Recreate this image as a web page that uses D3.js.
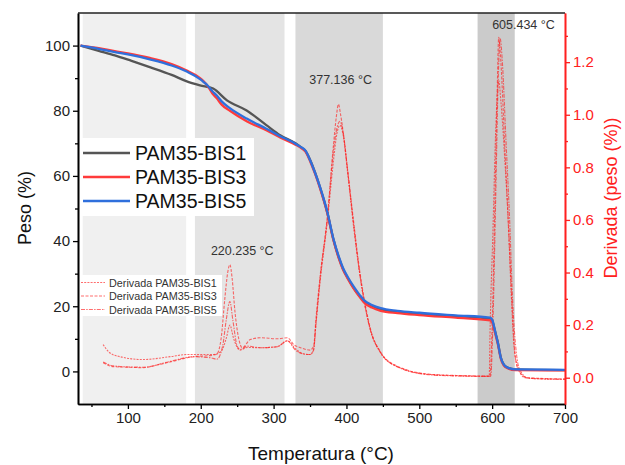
<!DOCTYPE html>
<html>
<head>
<meta charset="utf-8">
<script src="https://cdn.jsdelivr.net/npm/d3@7"></script>
<style>
  body { margin: 0; background: #fff; }
  svg { font-family: "Liberation Sans", Arial, sans-serif; }
</style>
</head>
<body>
<script>
// temperature (°C) / weight (%) pairs for each sample
const tgaBIS1 = [[35,100],[60,98.4],[82,97.0],[105,95.3],[130,93.4],[160,91.0],[180,89.1],[199,87.8],[217,86.8],[236,83.2],[263,80.1],[290,75.6],[309,72.5],[330,70.0],[337,68.9],[344,67.6],[350,65.0],[357,61.0],[364,56.3],[374,48.5],[382,40.6],[390,34.6],[395,31.6],[402,28.6],[410,25.6],[418,23.1],[424,21.5],[435,20.0],[447,19.0],[470,18.2],[500,17.7],[550,17.0],[597,16.2],[600,15.6],[604,12.3],[608,8.7],[612,4.2],[616,2.1],[622,1.1],[632,0.6],[700,0.4]];
const tgaBIS3 = [[35,100],[60,99.2],[82,98.3],[100,97.6],[130,96.2],[160,94.3],[180,92.4],[199,90.0],[204,89.0],[210,87.4],[216,85.3],[222,83.8],[229,81.8],[240,80.0],[263,76.8],[290,74.0],[309,71.8],[330,69.6],[337,68.7],[344,67.4],[350,64.6],[357,60.6],[364,56.0],[374,48.3],[382,40.4],[390,34.4],[395,31.4],[402,28.4],[410,25.4],[418,22.9],[424,21.2],[435,19.6],[447,18.6],[470,17.9],[500,17.3],[550,16.5],[597,15.7],[600,15.1],[604,11.8],[608,8.2],[612,3.8],[616,1.8],[622,0.9],[632,0.4],[700,0.3]];
const tgaBIS5 = [[35,100],[60,99.0],[82,98.0],[100,97.3],[130,95.8],[160,93.9],[180,92.1],[199,89.7],[204,88.8],[210,87.6],[216,86.0],[222,84.7],[229,82.8],[240,80.8],[263,77.6],[290,74.5],[309,72.2],[330,69.9],[337,68.9],[344,67.7],[350,64.9],[357,60.9],[364,56.4],[374,48.7],[382,40.8],[390,34.9],[395,31.9],[402,28.9],[410,26.0],[418,23.5],[424,21.9],[435,20.4],[447,19.4],[470,18.6],[500,18.0],[550,17.2],[597,16.5],[600,15.9],[604,12.4],[608,8.6],[612,4.1],[616,2.1],[622,1.1],[632,0.6],[700,0.5]];

// temperature (°C) / derivative pairs
const dtgBIS1 = [[66,0.126],[75,0.095],[89,0.08],[121,0.069],[158,0.08],[181,0.088],[217,0.088],[228,0.10],[235,0.15],[240,0.20],[245,0.15],[254,0.105],[264,0.115],[282,0.114],[305,0.118],[319,0.141],[330,0.11],[341,0.091],[350,0.088],[355,0.11],[358,0.2],[364,0.37],[374,0.6],[382,0.82],[387,0.93],[391,0.96],[395,0.93],[402,0.77],[410,0.57],[418,0.40],[425,0.28],[433,0.18],[447,0.095],[470,0.042],[515,0.012],[560,0.007],[596,0.005],[597,0.16],[601,0.55],[605,0.95],[609,1.13],[612,1.05],[618,0.8],[622,0.6],[626,0.33],[630,0.12],[635,0.04],[645,0.0],[670,-0.005],[700,-0.006]];
const dtgBIS3 = [[66,0.057],[80,0.042],[100,0.04],[121,0.038],[140,0.048],[158,0.06],[190,0.08],[215,0.085],[222,0.09],[228,0.15],[233,0.3],[237,0.40],[240,0.43],[243,0.38],[247,0.25],[252,0.15],[257,0.114],[268,0.145],[282,0.152],[305,0.148],[319,0.152],[328,0.125],[337,0.114],[350,0.105],[355,0.12],[358,0.22],[364,0.39],[374,0.62],[382,0.88],[386,0.99],[389,1.04],[392,1.0],[397,0.9],[402,0.78],[410,0.59],[418,0.41],[425,0.29],[433,0.185],[447,0.097],[470,0.044],[515,0.013],[560,0.008],[597,0.006],[600,0.2],[604,0.7],[607,1.1],[609,1.295],[612,1.2],[617,0.9],[622,0.6],[627,0.3],[631,0.1],[636,0.03],[648,0.0],[700,-0.005]];
const dtgBIS5 = [[66,0.06],[80,0.045],[100,0.041],[121,0.04],[158,0.062],[190,0.08],[215,0.075],[222,0.07],[230,0.12],[235,0.22],[240,0.29],[244,0.22],[250,0.12],[254,0.107],[264,0.12],[282,0.114],[305,0.118],[319,0.14],[330,0.105],[341,0.09],[350,0.088],[355,0.105],[358,0.2],[364,0.38],[374,0.61],[382,0.86],[387,0.95],[391,0.975],[395,0.94],[402,0.78],[410,0.58],[418,0.40],[425,0.28],[433,0.18],[447,0.094],[470,0.041],[515,0.011],[560,0.006],[598,0.005],[601,0.2],[605,0.7],[608,1.1],[611,1.29],[614,1.2],[619,0.9],[624,0.6],[628,0.3],[633,0.1],[638,0.03],[650,-0.002],[700,-0.006]];

const seriesNames = ["PAM35-BIS1", "PAM35-BIS3", "PAM35-BIS5"];
const derivNames = ["Derivada PAM35-BIS1", "Derivada PAM35-BIS3", "Derivada PAM35-BIS5"];

// shaded temperature ranges
const bandRanges = [[38, 180], [192, 315], [330, 450], [580, 631]];
const peakLabels = [[257, 0.48, "220.235 °C"], [392, 1.128, "377.136 °C"], [643, 1.337, "605.434 °C"]];

const xTicks = [100, 200, 300, 400, 500, 600, 700];
const yLeftTicks = [0, 20, 40, 60, 80, 100];
const yRightTicks = [0, 0.2, 0.4, 0.6, 0.8, 1.0, 1.2];

const bandColors = ["#f0f0f0", "#e4e4e4", "#d9d9d9", "#cbcbcb"];
const lineColors = ["#555555", "#ff3b3b", "#2f6fdc"];
const dashes = ["2,1.2", "3,1.5", "4,1.2,1.5,1.2"];

const width = 625, height = 465;
const margin = { top: 13, right: 60, bottom: 61, left: 78 };

const svg = d3.select("body").append("svg")
    .attr("width", width).attr("height", height);

const x = d3.scaleLinear().domain([31.5, 700]).range([margin.left, width - margin.right]);
const yL = d3.scaleLinear().domain([-10, 110]).range([height - margin.bottom, margin.top]);
const yR = d3.scaleLinear().domain([-0.1, 1.387]).range([height - margin.bottom, margin.top]);

// bands
svg.append("g").selectAll("rect")
    .data(bandRanges)
    .join("rect")
    .attr("x", d => x(d[0]))
    .attr("width", d => x(d[1]) - x(d[0]))
    .attr("y", margin.top)
    .attr("height", height - margin.bottom - margin.top)
    .attr("fill", (d, i) => bandColors[i]);

svg.append("defs").append("clipPath").attr("id", "clip")
    .append("rect")
    .attr("x", margin.left).attr("y", margin.top)
    .attr("width", width - margin.left - margin.right)
    .attr("height", height - margin.top - margin.bottom);

const plot = svg.append("g").attr("clip-path", "url(#clip)");

// derivative curves
const lineR = d3.line().x(d => x(d[0])).y(d => yR(d[1])).curve(d3.curveMonotoneX);
[dtgBIS1, dtgBIS3, dtgBIS5].forEach((data, i) => {
    plot.append("path")
        .datum(data)
        .attr("d", lineR)
        .attr("fill", "none")
        .attr("stroke", "#ff2020")
        .attr("stroke-opacity", 0.65)
        .attr("stroke-width", 1.1)
        .attr("stroke-dasharray", dashes[i]);
});

// weight curves
const lineL = d3.line().x(d => x(d[0])).y(d => yL(d[1])).curve(d3.curveMonotoneX);
[tgaBIS1, tgaBIS3, tgaBIS5].forEach((data, i) => {
    plot.append("path")
        .datum(data)
        .attr("d", lineL)
        .attr("fill", "none")
        .attr("stroke", lineColors[i])
        .attr("stroke-width", 2.3);
});

// peak labels
svg.append("g").selectAll("text")
    .data(peakLabels)
    .join("text")
    .attr("x", d => x(d[0]))
    .attr("y", d => yR(d[1]))
    .attr("text-anchor", "middle")
    .attr("dominant-baseline", "middle")
    .attr("font-size", 12.5)
    .attr("fill", "#333")
    .text(d => d[2]);

// axes
const bottom = height - margin.bottom;
svg.append("g").attr("transform", `translate(0,${bottom})`)
    .call(d3.axisBottom(x).tickValues(xTicks).tickSize(5).tickSizeOuter(0));
svg.append("g").attr("transform", `translate(0,${bottom})`)
    .call(d3.axisBottom(x).tickValues(d3.range(50, 700, 100)).tickSize(3).tickFormat("").tickSizeOuter(0));

svg.append("g").attr("transform", `translate(${margin.left},0)`)
    .call(d3.axisLeft(yL).tickValues(yLeftTicks).tickSize(5).tickSizeOuter(0));
svg.append("g").attr("transform", `translate(${margin.left},0)`)
    .call(d3.axisLeft(yL).tickValues([10, 30, 50, 70, 90]).tickSize(3).tickFormat("").tickSizeOuter(0));

svg.append("g").attr("class", "raxis").attr("transform", `translate(${width - margin.right},0)`)
    .call(d3.axisRight(yR).tickValues(yRightTicks).tickSize(5).tickFormat(d3.format(".1f")).tickSizeOuter(0));
svg.append("g").attr("class", "raxis").attr("transform", `translate(${width - margin.right},0)`)
    .call(d3.axisRight(yR).tickValues([0.1, 0.3, 0.5, 0.7, 0.9, 1.1, 1.3]).tickSize(3).tickFormat("").tickSizeOuter(0));

svg.selectAll(".tick text").attr("font-size", 15).attr("fill", "#222")
    .attr("font-family", "Liberation Sans, Arial, sans-serif");
svg.selectAll(".domain").attr("stroke-width", 1.6);
svg.selectAll(".tick line").attr("stroke-width", 1.3);
svg.selectAll(".raxis .domain, .raxis .tick line").attr("stroke", "#ff2020");
svg.selectAll(".raxis .tick text").attr("fill", "#ff2020");

// top frame
svg.append("line")
    .attr("x1", margin.left).attr("x2", width - margin.right)
    .attr("y1", margin.top).attr("y2", margin.top)
    .attr("stroke", "#222").attr("stroke-width", 1.3);

// axis titles
svg.append("text")
    .attr("x", 321).attr("y", 460)
    .attr("text-anchor", "middle").attr("font-size", 19).attr("fill", "#111")
    .text("Temperatura (°C)");
svg.append("text")
    .attr("transform", `translate(31,208) rotate(-90)`)
    .attr("text-anchor", "middle").attr("font-size", 18).attr("fill", "#111")
    .text("Peso (%)");
svg.append("text")
    .attr("transform", `translate(617,198) rotate(-90)`)
    .attr("text-anchor", "middle").attr("font-size", 18).attr("fill", "#ff2020")
    .text("Derivada (peso (%))");

// legend for weight curves
const leg1 = svg.append("g");
leg1.append("rect").attr("x", 82).attr("y", 138).attr("width", 172).attr("height", 78).attr("fill", "#fff");
seriesNames.forEach((name, i) => {
    const cy = 153 + i * 24;
    leg1.append("line").attr("x1", 83).attr("x2", 130).attr("y1", cy).attr("y2", cy)
        .attr("stroke", lineColors[i]).attr("stroke-width", 2.3);
    leg1.append("text").attr("x", 135).attr("y", cy).attr("dominant-baseline", "central")
        .attr("font-size", 19.5).attr("fill", "#111").text(name);
});

// legend for derivative curves
const leg2 = svg.append("g");
leg2.append("rect").attr("x", 80).attr("y", 275).attr("width", 142).attr("height", 41).attr("fill", "#fff");
derivNames.forEach((name, i) => {
    const cy = 282.5 + i * 13.5;
    leg2.append("line").attr("x1", 81).attr("x2", 105).attr("y1", cy).attr("y2", cy)
        .attr("stroke", "#ff2020").attr("stroke-opacity", 0.65).attr("stroke-width", 1.1)
        .attr("stroke-dasharray", dashes[i]);
    leg2.append("text").attr("x", 109).attr("y", cy).attr("dominant-baseline", "central")
        .attr("font-size", 10.8).attr("fill", "#333").text(name);
});
</script>
</body>
</html>
